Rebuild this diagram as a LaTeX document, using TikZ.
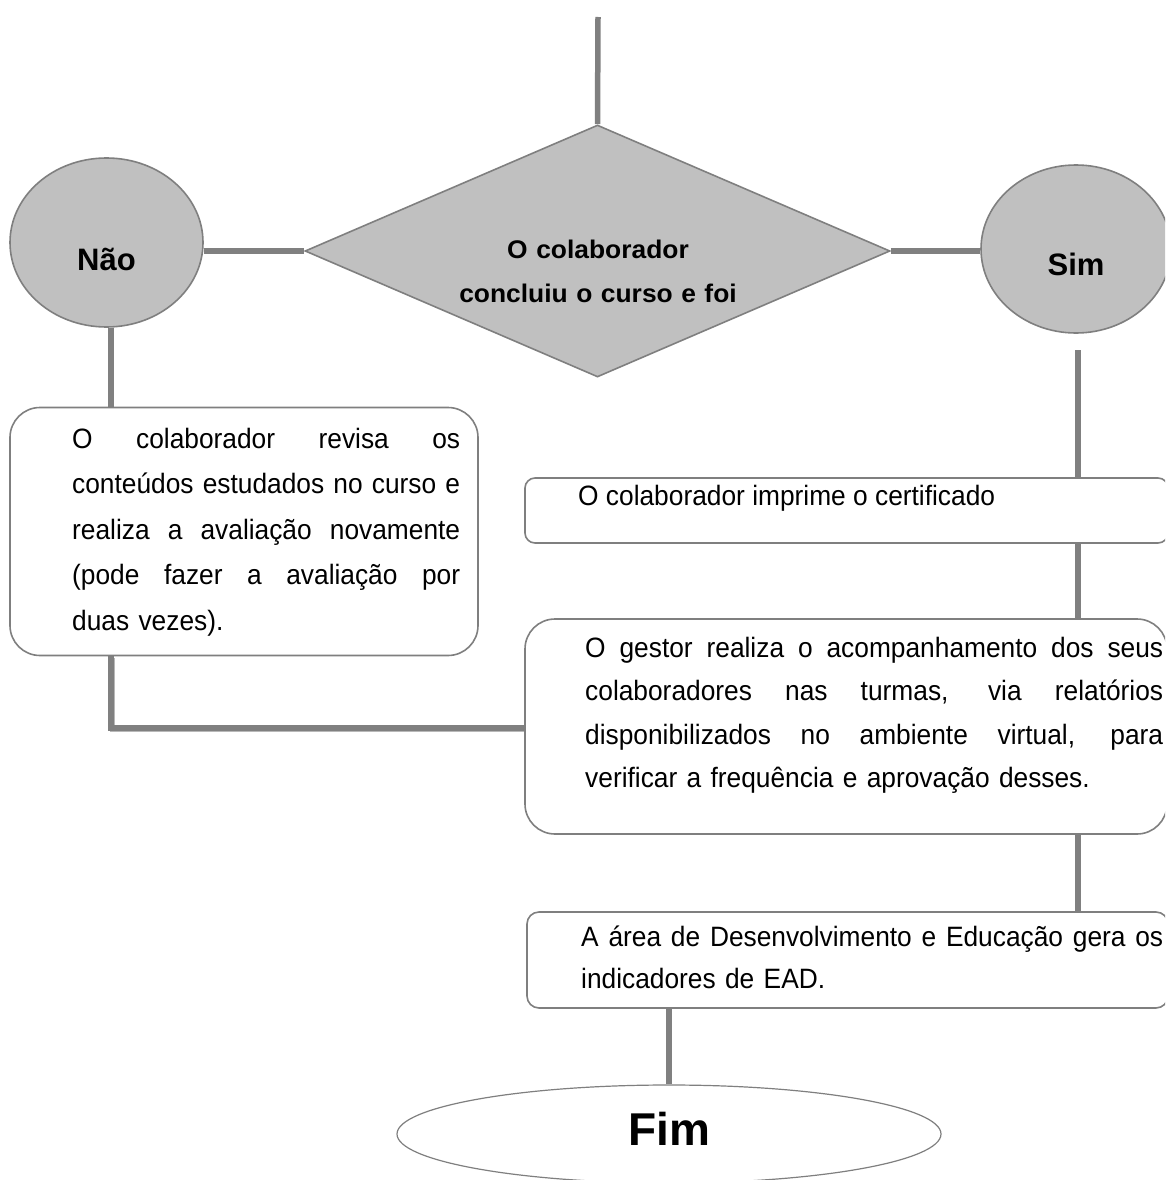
\documentclass[tikz,border=0pt]{standalone}
\usepackage{fontspec}
\setmainfont{Liberation Sans}
\newfontfamily\bodyfont[FakeStretch=0.94]{Liberation Sans}
\newfontfamily\decfont[FakeStretch=1.035]{Liberation Sans}
\usetikzlibrary{shapes.geometric,backgrounds}

\definecolor{linegray}{HTML}{808080}
\definecolor{edgegray}{HTML}{7F7F7F}
\definecolor{shapefill}{HTML}{C0C0C0}
\definecolor{shadowgray}{HTML}{B8B8B8}

% one justified line of a given width (interword spaces stretch to fill it)
\newcommand\jline[2]{\makebox[#1][s]{\spaceskip=\fontdimen2\font plus 1fil\relax\strut#2}}
% text lowered below a node's centre without changing the node's size
\newcommand\lowered[2]{\raisebox{-#1}[0pt][0pt]{#2}}

\tikzset{
  conn/.style={draw=linegray, line width=5.5pt},
  connshadow/.style={draw=shadowgray, line width=5.5pt},
  roundbox/.style={draw=edgegray, line width=1.6pt, rounded corners=30pt, fill=white, inner sep=0pt},
  flatbox/.style={draw=edgegray, line width=1.6pt, rounded corners=10pt, fill=white, inner sep=0pt},
  answer/.style={ellipse, draw=edgegray, line width=1.6pt, fill=shapefill, inner sep=0pt,
    font=\bfseries\fontsize{31}{36}\selectfont},
  decision/.style={diamond, draw=edgegray, line width=1.6pt, fill=shapefill, inner sep=0pt},
  terminal/.style={ellipse, draw=edgegray, line width=1.2pt, fill=white, inner sep=0pt},
  bodytext/.style={inner sep=0pt, anchor=north west, align=left},
}

\begin{document}
\begin{tikzpicture}[x=1pt, y=-1pt]
  \useasboundingbox (0,0) rectangle (1165,1180);
  \clip (0,0) rectangle (1165,1180);

  % decision and answers
  \node[decision, minimum width=585pt, minimum height=252pt] (dec) at (597.5,251) {};
  \node[inner sep=0pt, anchor=north, text width=330pt, align=center,
        font=\decfont\bfseries\fontsize{25.5}{44}\selectfont] (dectext) at (598,227.2)
        {\strut O colaborador\\\strut concluiu o curso e foi};
  \node[answer, minimum width=193pt, minimum height=169pt] (nao) at (106.5,242.5) {\lowered{27.5pt}{Não}};
  \node[answer, minimum width=190pt, minimum height=168pt] (sim) at (1076,249) {\lowered{26pt}{Sim}};

  % process boxes
  \node[roundbox, minimum width=468pt, minimum height=248pt] (lbox) at (244,531.5) {};
  \node[bodytext, font=\bodyfont\fontsize{28}{45.5}\selectfont, text width=388pt] (ltext) at (72,416.2)
    {\jline{388pt}{O colaborador revisa os}\\
     \jline{388pt}{conteúdos estudados no curso e}\\
     \jline{388pt}{realiza a avaliação novamente}\\
     \jline{388pt}{(pode fazer a avaliação por}\\
     \strut duas vezes).};

  \node[flatbox, minimum width=643pt, minimum height=65pt] (cert) at (846.5,510.5) {};
  \node[inner sep=0pt, anchor=base west, font=\bodyfont\fontsize{28}{34}\selectfont] (certtext) at (578,505)
    {O colaborador imprime o certificado};

  \node[roundbox, minimum width=642pt, minimum height=215pt] (gestor) at (846,726.5) {};
  \node[bodytext, font=\bodyfont\fontsize{28}{43.5}\selectfont, text width=578pt] (gtext) at (585,626.6)
    {\jline{578pt}{O gestor realiza o acompanhamento dos seus}\\
     \jline{578pt}{colaboradores nas turmas, via relatórios}\\
     \jline{578pt}{disponibilizados no ambiente virtual, para}\\
     \strut verificar a frequência e aprovação desses.};

  \node[flatbox, rounded corners=12pt, minimum width=641pt, minimum height=96pt] (ade) at (847.5,960) {};
  \node[bodytext, font=\bodyfont\fontsize{28}{42}\selectfont, text width=582pt] (atext) at (581,916.6)
    {\jline{582pt}{A área de Desenvolvimento e Educação gera os}\\
     \strut indicadores de EAD.};

  \node[terminal, minimum width=544pt, minimum height=98pt,
        font=\bfseries\fontsize{46}{50}\selectfont] (fim) at (669,1134) {\lowered{11pt}{Fim}};

  % connector end points
  \coordinate (start) at (598,17);
  \coordinate (simgap) at (1078,350);
  \coordinate (turn) at (111,728);

  \begin{pgfonlayer}{background}
    \draw[conn] (start) -- (dec.north);
    \draw[conn] (nao.east |- dec.west) -- (dec.west);
    \draw[conn] (dec.east) -- (sim.west |- dec.east);
    \draw[conn] (nao.south -| turn) -- (lbox.north -| turn);
    \draw[connshadow, transform canvas={shift={(1.5pt,-1.5pt)}}]
      (lbox.south -| turn) -- (turn) -- (turn -| gestor.west);
    \draw[conn] (lbox.south -| turn) -- (turn) -- (turn -| gestor.west);
    \draw[conn] (simgap) -- (simgap |- cert.north);
    \draw[conn] (cert.south -| simgap) -- (gestor.north -| simgap);
    \draw[conn] (gestor.south -| simgap) -- (ade.north -| simgap);
    \draw[conn] (ade.south -| fim.north) -- (fim.north);
  \end{pgfonlayer}
\end{tikzpicture}
\end{document}
